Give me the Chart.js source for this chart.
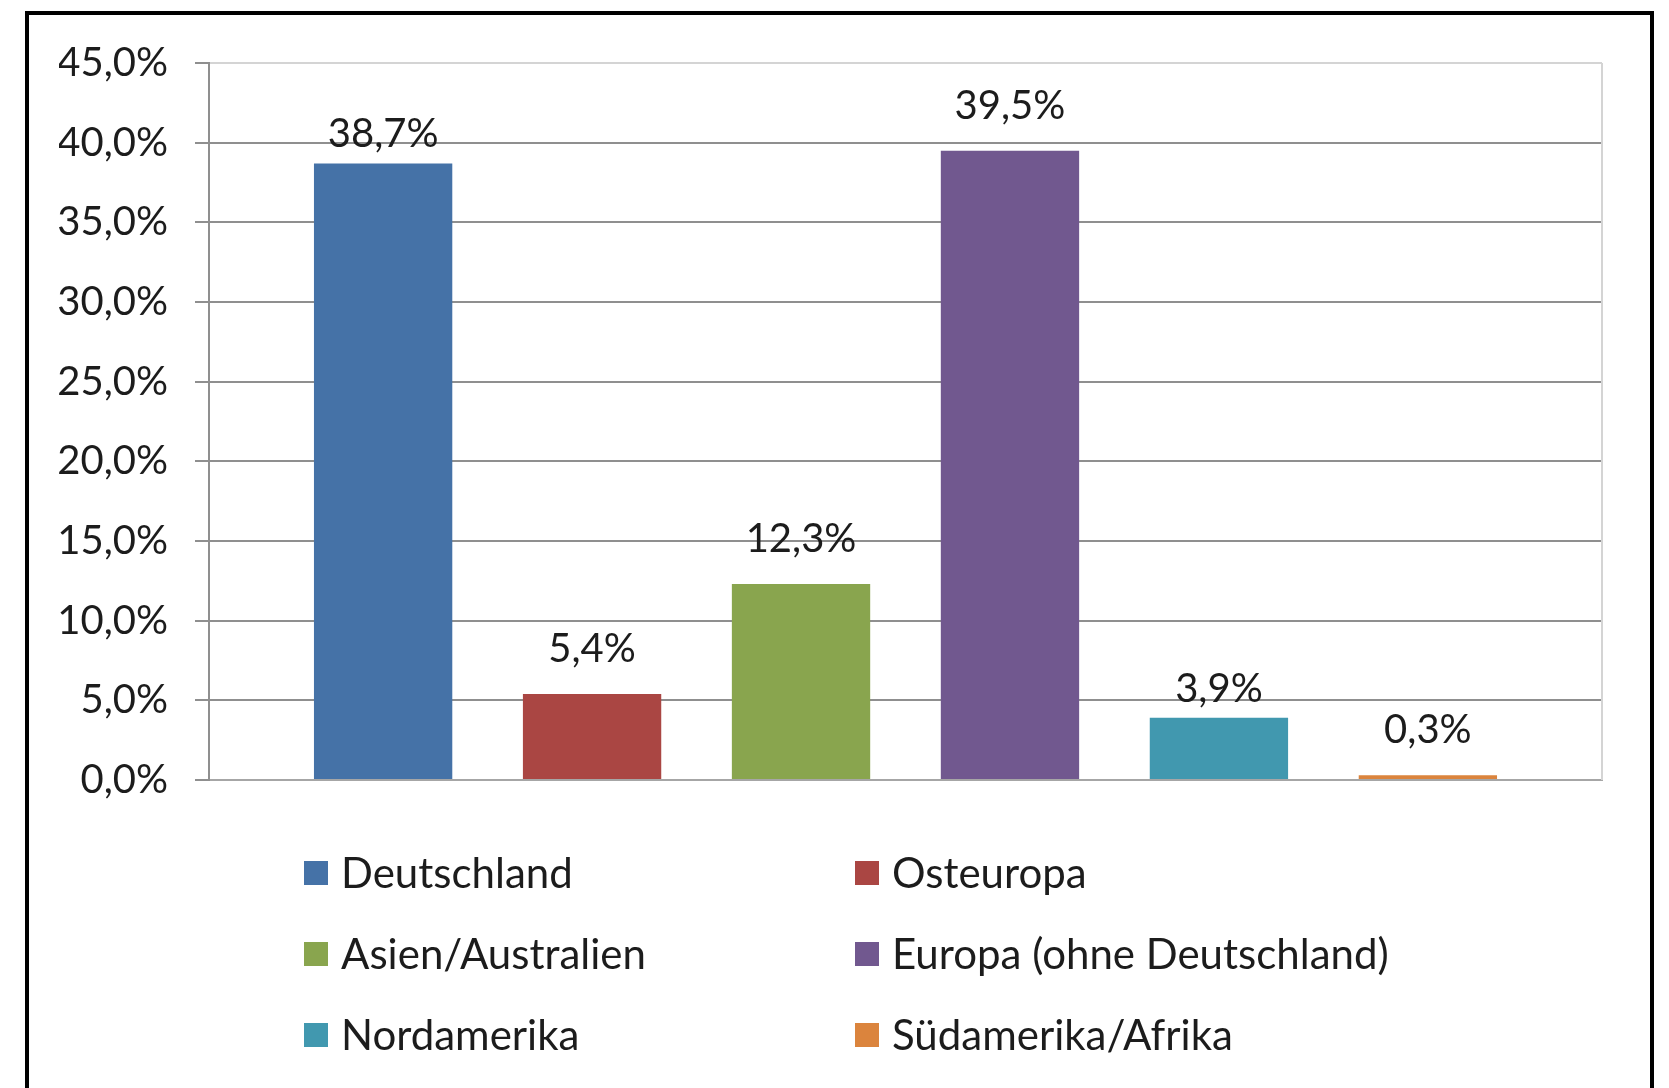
<!DOCTYPE html>
<html lang="de">
<head>
<meta charset="utf-8">
<title>Anteile nach Region</title>
<script src="https://cdn.jsdelivr.net/npm/chart.js@4.4.1/dist/chart.umd.min.js"></script>
<style>
  html, body { margin: 0; padding: 0; background: #fff; overflow: hidden; }
  #frame { position: absolute; left: 25px; top: 11px; width: 1629px; height: 1200px; border: 4px solid #000; box-sizing: border-box; }
  #chart { position: absolute; left: 0; top: 0; }
</style>
</head>
<body>
<div id="frame"></div>
<canvas id="chart" width="1669" height="1088"></canvas>
<script>
/* Anteile nach Region */

const regions = ['Deutschland', 'Osteuropa', 'Asien/Australien', 'Europa (ohne Deutschland)', 'Nordamerika', 'Südamerika/Afrika']
const shares = [38.7, 5.4, 12.3, 39.5, 3.9, 0.3]
const valueLabels = ['38,7%', '5,4%', '12,3%', '39,5%', '3,9%', '0,3%']
const yTickLabels = ['0,0%', '5,0%', '10,0%', '15,0%', '20,0%', '25,0%', '30,0%', '35,0%', '40,0%', '45,0%']

const colors = ['#4572A7', '#AA4643', '#89A54E', '#71588F', '#4198AF', '#DB843D']
const FONT = '40px Lato'
const LEGEND_FONT = '42px Lato'
const TEXT = '#1c1c1c'

// two labels in the original sit lower than the rest
const labelGap = { 'Deutschland': 16, 'Nordamerika': 16 }

const valueLabelPlugin = {
  id: 'valueLabels',
  afterDatasetsDraw (chart) {
    const ctx = chart.ctx
    ctx.save()
    ctx.font = FONT
    ctx.fillStyle = TEXT
    ctx.textAlign = 'center'
    ctx.textBaseline = 'alphabetic'
    chart.data.datasets.forEach((ds, i) => {
      const bar = chart.getDatasetMeta(i).data[0]
      const gap = labelGap[ds.label] || 32
      ctx.fillText(valueLabels[i], bar.x, bar.y - gap)
    })
    ctx.restore()
  }
}

const plotFramePlugin = {
  id: 'plotFrame',
  beforeDatasetsDraw (chart) {
    const { ctx, chartArea } = chart
    ctx.save()
    ctx.strokeStyle = '#d4d4d4'
    ctx.lineWidth = 2
    ctx.beginPath()
    ctx.moveTo(chartArea.right, chartArea.top)
    ctx.lineTo(chartArea.right, chartArea.bottom)
    ctx.stroke()
    ctx.restore()
  }
}

const legendPlugin = {
  id: 'gridLegend',
  afterDraw (chart) {
    const ctx = chart.ctx
    const colX = [304, 855]
    const rowY = [873, 954, 1035]
    const box = 24
    ctx.save()
    ctx.font = LEGEND_FONT
    ctx.textAlign = 'left'
    ctx.textBaseline = 'alphabetic'
    chart.data.datasets.forEach((ds, i) => {
      const x = colX[i % 2]
      const y = rowY[Math.floor(i / 2)]
      ctx.fillStyle = ds.backgroundColor
      ctx.fillRect(x, y - box / 2, box, box)
      ctx.fillStyle = TEXT
      ctx.fillText(ds.label, x + 37, y + 15)
    })
    ctx.restore()
  }
}

new Chart(document.getElementById('chart'), {
  type: 'bar',
  data: {
    labels: [''],
    datasets: regions.map((name, i) => ({
      label: name,
      data: [shares[i]],
      backgroundColor: colors[i],
      borderWidth: 0,
      categoryPercentage: 0.9,
      barPercentage: 0.662
    }))
  },
  options: {
    responsive: false,
    animation: false,
    layout: { padding: { left: 59, right: 67, top: 63, bottom: 308 } },
    plugins: {
      legend: { display: false },
      tooltip: { enabled: false },
      title: { display: false }
    },
    scales: {
      x: {
        ticks: { display: false },
        grid: { display: false },
        border: { display: true, color: '#a6a6a6', width: 2 },
        afterFit (scale) { scale.height = 0 }
      },
      y: {
        min: 0,
        max: 45,
        ticks: {
          stepSize: 5,
          padding: 27,
          color: TEXT,
          font: { family: 'Lato', size: 40 },
          callback: (value, index) => yTickLabels[index]
        },
        grid: {
          color: ctx => (ctx.tick && ctx.tick.value === 45) ? '#d4d4d4' : '#8f8f8f',
          tickColor: '#8f8f8f',
          lineWidth: 2,
          drawTicks: true,
          tickLength: 14
        },
        border: { display: true, color: '#8f8f8f', width: 2 },
        afterFit (scale) { scale.width = 150 }
      }
    }
  },
  plugins: [plotFramePlugin, valueLabelPlugin, legendPlugin]
})
</script>
</body>
</html>
